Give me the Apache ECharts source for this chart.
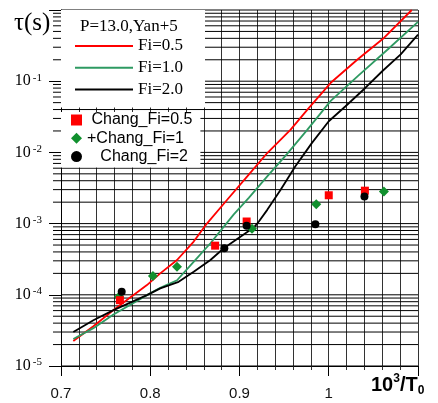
<!DOCTYPE html>
<html>
<head>
<meta charset="utf-8">
<script src="https://cdn.jsdelivr.net/npm/echarts@6/dist/echarts.min.js"></script>
<style>html,body{margin:0;padding:0;background:#fff}#c{width:438px;height:403px}</style>
</head>
<body>
<div id="c"></div>
<script>
// ---- data ----
const fi05X = [0.7138,0.7363,0.7588,0.7963,0.8112,0.830,0.8487,0.8637,0.8862,0.9087,0.9311,0.9573,0.9761,1.0022,1.0322,1.0621,1.093];
const fi05Y = [2.25e-5,3.62e-5,6.1e-5,1.37e-4,2.0e-4,3.08e-4,5.6e-4,1.01e-3,2.16e-3,4.6e-3,9.8e-3,2.09e-2,3.99e-2,9.5e-2,0.202,0.408,1.0];
const fi10X = [0.7138,0.7363,0.7588,0.7963,0.8112,0.830,0.8486,0.8674,0.8936,0.9104,0.9311,0.9536,0.9761,1.0022,1.0322,1.066,1.1];
const fi10Y = [2.4e-5,3.4e-5,5.3e-5,9.9e-5,1.25e-4,1.6e-4,2.9e-4,5.3e-4,1.35e-3,2.3e-3,4.6e-3,9.6e-3,2.09e-2,5.3e-2,0.117,0.279,0.68];
const fi20X = [0.7138,0.7363,0.7588,0.7963,0.8112,0.8318,0.8487,0.8674,0.8824,0.9087,0.916,0.9217,0.9311,0.9461,0.9626,0.9812,1.0,1.0188,1.0412,1.0599,1.0806,1.1];
const fi20Y = [3.0e-5,4.4e-5,6.1e-5,9.9e-5,1.23e-4,1.52e-4,2.11e-4,3.08e-4,4.5e-4,7.6e-4,8.8e-4,1.07e-3,1.56e-3,2.98e-3,6.4e-3,1.36e-2,2.74e-2,4.45e-2,8.1e-2,0.138,0.238,0.45];
const chang05X = [0.766,0.8727,0.908,1.0,1.0405];
const chang05Y = [8.4e-5,4.9e-4,1.07e-3,2.5e-3,2.9e-3];
const chang1X = [0.765,0.803,0.830,0.914,0.986,1.0618];
const chang1Y = [9.4e-5,1.83e-4,2.48e-4,8.5e-4,1.87e-3,2.82e-3];
const chang2X = [0.768,0.883,0.908,0.985,1.040];
const chang2Y = [1.1e-4,4.5e-4,9.3e-4,9.8e-4,2.4e-3];
const lineNames = ['Fi=0.5','Fi=1.0','Fi=2.0'];
const markNames = [' Chang_Fi=0.5','+Chang_Fi=1','   Chang_Fi=2'];
const xTickLabels = ['0.7','0.8','0.9','1'];
const decadeExps = [-5,-4,-3,-2,-1,0];
const X_MIN = 0.7, X_MAX = 1.1, Y_MIN = 1e-5, Y_MAX = 1;

const pairs = (xs, ys) => xs.map((x, i) => [x, ys[i]]);
// horizontal log grid values (1..9 x 10^e)
const gridRows = [];
decadeExps.forEach(e => {
  const mult = e === 0 ? [1] : [1,2,3,4,5,6,7,8,9];
  mult.forEach(m => gridRows.push([X_MIN, m * Math.pow(10, e), m === 1 ? 1 : 0]));
});

const serif = 'Liberation Serif';
const sans = 'Liberation Sans';
const chart = echarts.init(document.getElementById('c'));
chart.setOption({
  animation: false,
  backgroundColor: '#fff',
  grid: { left: 61, right: 20, top: 10, bottom: 37 },
  title: [
    { text: 'τ(s)', left: 14, top: 11, padding: 0,
      textStyle: { fontFamily: serif, fontSize: 25, fontWeight: 'normal', color: '#000' } },
    { text: 'P=13.0,Yan+5', left: 80, top: 18, padding: 0, z: 10,
      textStyle: { fontFamily: serif, fontSize: 17, fontWeight: 'normal', color: '#000' } },
    { text: '{a|10}{b|3}{a|/T}{c|0}', left: 371, top: 373, padding: 0,
      textStyle: { rich: {
        a: { fontFamily: sans, fontSize: 20, color: '#000', lineHeight: 24, verticalAlign: 'middle' },
        b: { fontFamily: sans, fontSize: 12, color: '#000', lineHeight: 12, verticalAlign: 'top' },
        c: { fontFamily: sans, fontSize: 12, color: '#000', lineHeight: 12, verticalAlign: 'bottom' }
      } } }
  ],
  legend: [
    { data: lineNames, orient: 'vertical', left: 61, top: 10, padding: [26, 22, 8, 14],
      icon: 'rect', itemWidth: 58, itemHeight: 2, itemGap: 1.8, selectedMode: false,
      backgroundColor: '#fff', z: 5,
      textStyle: { fontFamily: serif, fontSize: 17, color: '#000', lineHeight: 20 } },
    { data: markNames, orient: 'vertical', left: 61, top: 112, padding: [0, 8, 3, 10],
      itemWidth: 11, itemHeight: 11, itemGap: 2.3, selectedMode: false,
      backgroundColor: '#fff', z: 5,
      textStyle: { fontFamily: sans, fontSize: 16, color: '#000', lineHeight: 16 } }
  ],
  xAxis: [
    { type: 'value', min: X_MIN, max: X_MAX, interval: 0.02, position: 'bottom',
      axisLine: { show: true, lineStyle: { color: '#000', width: 1 } },
      axisTick: { show: true, length: 4, inside: false, lineStyle: { color: '#333' } },
      axisLabel: { show: false },
      splitLine: { show: true, lineStyle: { color: '#333', width: 1 } } },
    { type: 'value', min: X_MIN, max: X_MAX, interval: 0.1, position: 'bottom',
      axisLine: { show: false },
      axisTick: { show: true, length: 10, inside: false, lineStyle: { color: '#000' } },
      splitLine: { show: false },
      axisLabel: { show: true, margin: 20, fontFamily: sans, fontSize: 15, color: '#111',
        formatter: v => { const i = Math.round((v - X_MIN) / 0.1); return xTickLabels[i] || ''; } } }
  ],
  yAxis: {
    type: 'log', logBase: 10, min: Y_MIN, max: Y_MAX,
    axisLine: { show: true, lineStyle: { color: '#000', width: 1 } },
    axisTick: { show: true, length: 12, inside: false, lineStyle: { color: '#000' } },
    splitLine: { show: false },
    axisLabel: { show: true, margin: 19,
      formatter: v => { const e = Math.round(Math.log10(v)); return e === 0 ? '' : '{b|10}{s|' + e + '}'; },
      rich: {
        b: { fontFamily: serif, fontSize: 16, color: '#000', lineHeight: 18, verticalAlign: 'middle' },
        s: { fontFamily: serif, fontSize: 11, color: '#000', lineHeight: 11, verticalAlign: 'top', padding: [0,0,0,2] }
      } }
  },
  series: [
    { type: 'custom', name: 'grid', z: 1, silent: true, clip: false,
      encode: { x: 0, y: 1 },
      renderItem: (params, api) => {
        const cs = params.coordSys;
        const p = api.coord([api.value(0), api.value(1)]);
        const ext = api.value(2) === 1 ? 0 : 8;
        return { type: 'line', silent: true,
          shape: { x1: cs.x - ext, y1: p[1], x2: cs.x + cs.width, y2: p[1] },
          style: { stroke: '#000', lineWidth: 1 } };
      },
      data: gridRows },
    { type: 'line', name: lineNames[0], data: pairs(fi05X, fi05Y), symbol: 'none', z: 2,
      lineStyle: { color: '#ff0000', width: 1.8 }, itemStyle: { color: '#ff0000' } },
    { type: 'line', name: lineNames[1], data: pairs(fi10X, fi10Y), symbol: 'none', z: 2,
      lineStyle: { color: '#2e9a62', width: 1.8 }, itemStyle: { color: '#2e9a62' } },
    { type: 'line', name: lineNames[2], data: pairs(fi20X, fi20Y), symbol: 'none', z: 2,
      lineStyle: { color: '#000', width: 1.8 }, itemStyle: { color: '#000' } },
    { type: 'scatter', name: markNames[0], data: pairs(chang05X, chang05Y), symbol: 'rect', symbolSize: 8, z: 4,
      itemStyle: { color: '#ff0000', opacity: 1 } },
    { type: 'scatter', name: markNames[1], data: pairs(chang1X, chang1Y), symbol: 'diamond', symbolSize: 10, z: 3,
      itemStyle: { color: '#11902e', opacity: 1 } },
    { type: 'scatter', name: markNames[2], data: pairs(chang2X, chang2Y), symbol: 'circle', symbolSize: 8, z: 4,
      itemStyle: { color: '#000', opacity: 1 } }
  ]
});
</script>
</body>
</html>
